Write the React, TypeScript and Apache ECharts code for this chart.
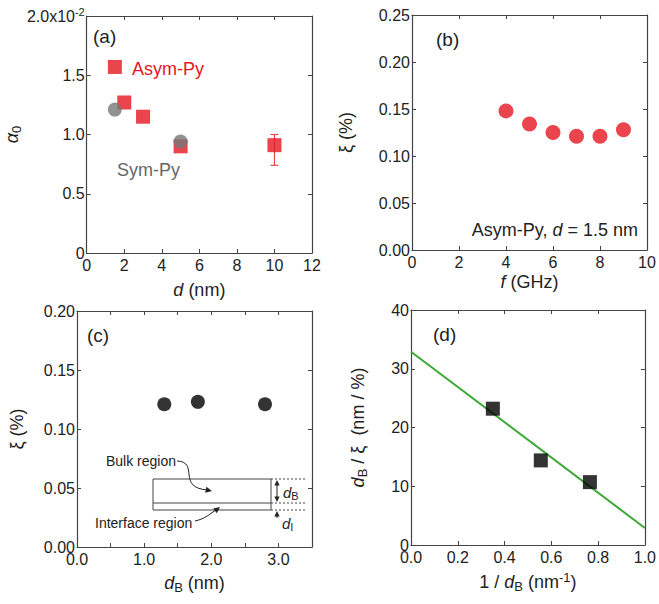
import React, { useEffect, useRef } from "react";
import * as echarts from "echarts";

// ---------- data ----------
// (a) damping alpha_0 in units of 1e-2 versus Py thickness d (nm)
const aAsymD = [1.5, 2, 3, 5, 10];
const aAsymAlpha = [1.57, 1.27, 1.15, 0.9, 0.91];
const aSymD = [1.5, 5];
const aSymAlpha = [1.21, 0.94];
const aErrD = [10];
const aErrLow = [0.74];
const aErrHigh = [1.0];
// (b) xi (%) versus frequency f (GHz)
const bFreq = [4, 5, 6, 7, 8, 9];
const bXi = [0.148, 0.134, 0.125, 0.121, 0.121, 0.128];
// (c) xi (%) versus d_B (nm)
const cDB = [1.3, 1.8, 2.8];
const cXi = [0.121, 0.123, 0.121];
// (d) d_B / xi versus 1/d_B
const dInvDB = [0.35, 0.555, 0.765];
const dRatio = [23.2, 14.4, 10.7];
const dFitX = [0, 1.0];
const dFitY = [32.9, 2.9];
// tick labels
const aYTickLabels = ["0", "0.5", "1.0", "1.5", "{m|2.0x10}{s|-2}"];

const FONT = '"Liberation Sans", Arial, Helvetica, sans-serif';
const AX = "#444";
const TXT = "#222";
const RED = "#e5171f";
const GRAY = "#777777";
const GREEN = "#3aa935";
const TICK_FS = 16;

const zip = (xs: number[], ys: number[]) => xs.map((x, i) => [x, ys[i]]);

const nameRich = {
  n: { fontSize: 18, fontFamily: FONT, color: TXT, lineHeight: 22 },
  i: { fontSize: 18, fontFamily: FONT, color: TXT, fontStyle: "italic", lineHeight: 22 },
  sub: { fontSize: 13, fontFamily: FONT, color: TXT, lineHeight: 13, padding: [9, 0, 0, 0], verticalAlign: "bottom" },
  sup: { fontSize: 13, fontFamily: FONT, color: TXT, lineHeight: 13, padding: [0, 0, 9, 0], verticalAlign: "top" },
};

function axesFor(
  g: number,
  x: { min: number; max: number; interval: number; fmt: (v: number) => string; name: string; gap: number },
  y: { min: number; max: number; interval: number; fmt: (v: number, i: number) => string; name: string; gap: number; rich?: any }
) {
  const common = (min: number, max: number, interval: number) => ({
    type: "value",
    gridIndex: g,
    min,
    max,
    interval,
    splitLine: { show: false },
    axisLine: { show: true, onZero: false, lineStyle: { color: AX, width: 1.2 } },
    axisTick: { show: true, inside: true, length: 4, lineStyle: { color: AX, width: 1 } },
  });
  const label = {
    show: true,
    color: TXT,
    fontSize: TICK_FS,
    fontFamily: FONT,
    showMinLabel: true,
    showMaxLabel: true,
  };
  const xs = [
    {
      ...common(x.min, x.max, x.interval),
      position: "bottom",
      axisLabel: { ...label, margin: 4, formatter: x.fmt },
      name: x.name,
      nameLocation: "middle",
      nameGap: x.gap,
      nameTextStyle: { fontSize: 18, fontFamily: FONT, color: TXT, rich: nameRich },
    },
    { ...common(x.min, x.max, x.interval), position: "top", axisLabel: { show: false } },
  ];
  const ys = [
    {
      ...common(y.min, y.max, y.interval),
      position: "left",
      axisLabel: { ...label, margin: 2, formatter: y.fmt, rich: y.rich },
      name: y.name,
      nameLocation: "middle",
      nameGap: y.gap,
      nameTextStyle: { fontSize: 18, fontFamily: FONT, color: TXT, rich: nameRich },
    },
    { ...common(y.min, y.max, y.interval), position: "right", axisLabel: { show: false } },
  ];
  return { xs, ys };
}

function arrowHead(tx: number, ty: number, angle: number, size: number, color: string) {
  const back = angle + Math.PI;
  const w = 0.45;
  const p1 = [tx + size * Math.cos(back - w), ty + size * Math.sin(back - w)];
  const p2 = [tx + size * Math.cos(back + w), ty + size * Math.sin(back + w)];
  return { type: "polygon", shape: { points: [[tx, ty], p1, p2] }, style: { fill: color }, z: 100 };
}

export default function App() {
  const ref = useRef<HTMLDivElement>(null);
  useEffect(() => {
    if (!ref.current) return;
    const chart = echarts.init(ref.current, null, { renderer: "svg" });

    const A = axesFor(
      0,
      { min: 0, max: 12, interval: 2, fmt: (v) => String(v), name: "{i|d}{n| (nm)}", gap: 26 },
      {
        min: 0,
        max: 2,
        interval: 0.5,
        fmt: (v) => aYTickLabels[Math.round(v / 0.5)] ?? String(v),
        name: "{i|α}{sub|0}",
        gap: 42,
        rich: {
          m: { fontSize: TICK_FS, fontFamily: FONT, color: TXT, lineHeight: 20 },
          s: { fontSize: 11, fontFamily: FONT, color: TXT, lineHeight: 11, padding: [0, 0, 9, 0], verticalAlign: "top" },
        },
      }
    );
    const B = axesFor(
      1,
      { min: 0, max: 10, interval: 2, fmt: (v) => String(v), name: "{i|f}{n| (GHz)}", gap: 21 },
      { min: 0, max: 0.25, interval: 0.05, fmt: (v) => v.toFixed(2), name: "{n|ξ (%)}", gap: 55 }
    );
    const C = axesFor(
      2,
      {
        min: 0,
        max: 3.5,
        interval: 0.5,
        fmt: (v) => (Math.abs(v - Math.round(v)) < 1e-9 ? v.toFixed(1) : ""),
        name: "{i|d}{sub|B}{n| (nm)}",
        gap: 25,
      },
      { min: 0, max: 0.2, interval: 0.05, fmt: (v) => v.toFixed(2), name: "{n|ξ (%)}", gap: 49 }
    );
    const D = axesFor(
      3,
      { min: 0, max: 1, interval: 0.2, fmt: (v) => v.toFixed(1), name: "{n|1 / }{i|d}{sub|B}{n| (nm}{sup|-1}{n|)}", gap: 26 },
      { min: 0, max: 40, interval: 10, fmt: (v) => String(v), name: "{i|d}{sub|B}{n| / ξ  (nm / %)}", gap: 42 }
    );

    const idx = (g: number) => ({ xAxisIndex: 2 * g, yAxisIndex: 2 * g });

    const graphics: any[] = [
      { type: "text", left: 93, top: 27, style: { text: "(a)", font: `19px ${FONT}`, fill: TXT } },
      { type: "text", left: 132, top: 60, style: { text: "Asym-Py", font: `18px ${FONT}`, fill: RED } },
      { type: "text", left: 117, top: 161, style: { text: "Sym-Py", font: `18px ${FONT}`, fill: "#666" } },
      { type: "text", left: 436, top: 30, style: { text: "(b)", font: `19px ${FONT}`, fill: TXT } },
      {
        type: "text",
        right: 21,
        top: 221,
        style: {
          text: "{n|Asym-Py, }{i|d}{n| = 1.5 nm}",
          rich: {
            n: { fontSize: 18, fontFamily: FONT, fill: TXT },
            i: { fontSize: 18, fontFamily: FONT, fontStyle: "italic", fill: TXT },
          },
        },
      },
      { type: "text", left: 87, top: 326, style: { text: "(c)", font: `19px ${FONT}`, fill: TXT } },
      { type: "text", left: 433, top: 325, style: { text: "(d)", font: `19px ${FONT}`, fill: TXT } },
      // inset schematic in (c)
      { type: "rect", shape: { x: 153, y: 479, width: 118, height: 31 }, style: { fill: "none", stroke: AX, lineWidth: 1 } },
      { type: "line", shape: { x1: 153, y1: 503, x2: 271, y2: 503 }, style: { stroke: AX, lineWidth: 1 } },
      { type: "line", shape: { x1: 271, y1: 479, x2: 305, y2: 479 }, style: { stroke: AX, lineWidth: 1, lineDash: [2, 2] } },
      { type: "line", shape: { x1: 271, y1: 503, x2: 305, y2: 503 }, style: { stroke: AX, lineWidth: 1, lineDash: [2, 2] } },
      { type: "line", shape: { x1: 271, y1: 510, x2: 305, y2: 510 }, style: { stroke: AX, lineWidth: 1, lineDash: [2, 2] } },
      { type: "line", shape: { x1: 277, y1: 482, x2: 277, y2: 500 }, style: { stroke: "#222", lineWidth: 1 } },
      arrowHead(277, 480, -Math.PI / 2, 6, "#222"),
      arrowHead(277, 502, Math.PI / 2, 6, "#222"),
      { type: "line", shape: { x1: 277, y1: 513, x2: 277, y2: 518 }, style: { stroke: "#222", lineWidth: 1 } },
      arrowHead(277, 511, -Math.PI / 2, 6, "#222"),
      {
        type: "text",
        left: 283,
        top: 483,
        style: {
          text: "{i|d}{s|B}",
          rich: {
            i: { fontSize: 15, fontFamily: FONT, fontStyle: "italic", fill: TXT, lineHeight: 18 },
            s: { fontSize: 11, fontFamily: FONT, fill: TXT, lineHeight: 11, padding: [7, 0, 0, 0], verticalAlign: "bottom" },
          },
        },
      },
      {
        type: "text",
        left: 282,
        top: 514,
        style: {
          text: "{i|d}{s|I}",
          rich: {
            i: { fontSize: 15, fontFamily: FONT, fontStyle: "italic", fill: TXT, lineHeight: 18 },
            s: { fontSize: 11, fontFamily: FONT, fill: TXT, lineHeight: 11, padding: [7, 0, 0, 0], verticalAlign: "bottom" },
          },
        },
      },
      { type: "text", left: 106, top: 454, style: { text: "Bulk region", font: `14px ${FONT}`, fill: TXT } },
      { type: "text", left: 95, top: 516, style: { text: "Interface region", font: `14px ${FONT}`, fill: TXT } },
      {
        type: "bezierCurve",
        shape: { x1: 177, y1: 461, cpx1: 200, cpy1: 462, cpx2: 176, cpy2: 488, x2: 208, y2: 490 },
        style: { stroke: "#222", lineWidth: 1, fill: "none" },
      },
      arrowHead(212, 491, 0.2, 7, "#222"),
      {
        type: "bezierCurve",
        shape: { x1: 195, y1: 521, cpx1: 205, cpy1: 519, cpx2: 211, cpy2: 513, x2: 216, y2: 510 },
        style: { stroke: "#222", lineWidth: 1, fill: "none" },
      },
      arrowHead(220, 507, -0.65, 7, "#222"),
    ];

    const option: any = {
      animation: false,
      backgroundColor: "#fff",
      textStyle: { fontFamily: FONT },
      grid: [
        { left: 77, top: 16, width: 235, height: 237 },
        { left: 412, top: 15, width: 235, height: 235 },
        { left: 77, top: 311, width: 235, height: 236 },
        { left: 411, top: 310, width: 236, height: 235 },
      ],
      xAxis: [...A.xs, ...B.xs, ...C.xs, ...D.xs],
      yAxis: [...A.ys, ...B.ys, ...C.ys, ...D.ys],
      series: [
        {
          type: "custom",
          ...idx(0),
          coordinateSystem: "cartesian2d",
          data: aErrD.map((d, i) => [d, aErrLow[i], aErrHigh[i]]),
          encode: { x: 0, y: [1, 2] },
          z: 1,
          renderItem: (params: any, api: any) => {
            const x = api.value(0);
            const lo = api.coord([x, api.value(1)]);
            const hi = api.coord([x, api.value(2)]);
            const st = { stroke: "#e8474d", lineWidth: 1.2 };
            return {
              type: "group",
              children: [
                { type: "line", shape: { x1: lo[0], y1: lo[1], x2: hi[0], y2: hi[1] }, style: st },
                { type: "line", shape: { x1: lo[0] - 4, y1: lo[1], x2: lo[0] + 4, y2: lo[1] }, style: st },
                { type: "line", shape: { x1: hi[0] - 4, y1: hi[1], x2: hi[0] + 4, y2: hi[1] }, style: st },
              ],
            };
          },
        },
        {
          type: "scatter",
          ...idx(0),
          data: zip(aAsymD, aAsymAlpha),
          symbol: "rect",
          symbolSize: 14,
          itemStyle: { color: RED },
          z: 2,
        },
        {
          type: "scatter",
          ...idx(0),
          data: zip(aSymD, aSymAlpha),
          symbol: "circle",
          symbolSize: 14,
          itemStyle: { color: GRAY },
          z: 3,
        },
        {
          type: "scatter",
          ...idx(1),
          data: zip(bFreq, bXi),
          symbol: "circle",
          symbolSize: 15,
          itemStyle: { color: RED },
        },
        {
          type: "scatter",
          ...idx(2),
          data: zip(cDB, cXi),
          symbol: "circle",
          symbolSize: 14,
          itemStyle: { color: "#000" },
        },
        {
          type: "line",
          ...idx(3),
          data: zip(dFitX, dFitY),
          symbol: "none",
          lineStyle: { color: GREEN, width: 2 },
          z: 1,
        },
        {
          type: "scatter",
          ...idx(3),
          data: zip(dInvDB, dRatio),
          symbol: "rect",
          symbolSize: 14,
          itemStyle: { color: "#000" },
          z: 2,
        },
      ],
      graphic: graphics,
    };
    chart.setOption(option);
    return () => chart.dispose();
  }, []);
  return (
    <div
      ref={ref}
      style={{ position: "fixed", left: 0, top: 0, width: 659, height: 604, background: "#fff" }}
    />
  );
}
